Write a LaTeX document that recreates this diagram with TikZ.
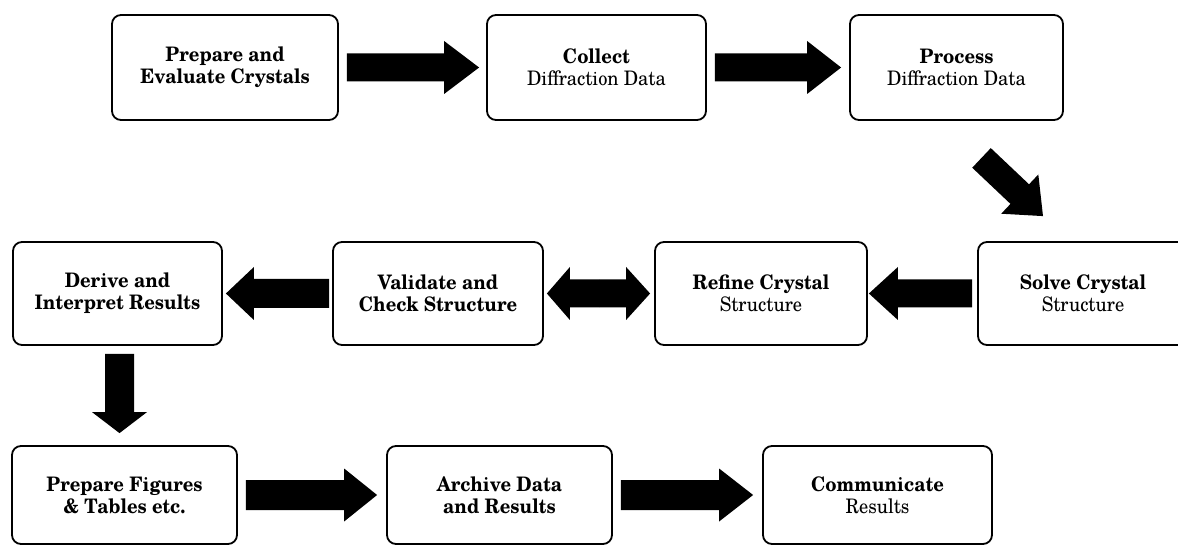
\documentclass[tikz,border=0pt]{standalone}
\usepackage{fontspec}
\setmainfont[FakeStretch=0.92]{TeX Gyre Schola}
\usetikzlibrary{calc}
% #1 tail, #2 tip, #3 half shaft width, #4 half head width, #5 head length
\newcommand\fatarrow[5]{%
  \coordinate (fahead) at ($(#2)!#5!(#1)$);
  \fill[black] ($(#1)!#3!90:(#2)$) -- ($(fahead)!#3!90:(#2)$) -- ($(fahead)!#4!90:(#2)$)
    -- (#2) -- ($(fahead)!#4!-90:(#2)$) -- ($(fahead)!#3!-90:(#2)$) -- ($(#1)!#3!-90:(#2)$) -- cycle;}
\begin{document}
\begin{tikzpicture}[x=1pt,y=-1pt,
  stage/.style={draw, line width=1.8pt, rounded corners=9pt, align=center,
    inner sep=0pt, font=\fontsize{20}{22}\selectfont}]
\useasboundingbox (0,0) rectangle (1178,545);
\clip (0,0) rectangle (1178,545);
\fill[white] (0,0) rectangle (1178,545);
% row 1
\node[stage, minimum width=226pt, minimum height=105pt] (n1) at (225,67.5)
  {\textbf{Prepare and}\\\textbf{Evaluate Crystals}};
\node[stage, minimum width=219pt, minimum height=105pt] (n2) at (596.5,67.5)
  {\textbf{Collect}\\Diffraction Data};
\node[stage, minimum width=213pt, minimum height=105pt] (n3) at (956.5,67.5)
  {\textbf{Process}\\Diffraction Data};
% row 2
\node[stage, minimum width=209pt, minimum height=103pt] (n5) at (117.5,293.5)
  {\textbf{Derive and}\\\textbf{Interpret Results}};
\node[stage, minimum width=210pt, minimum height=103pt] (n6) at (438,293.5)
  {\textbf{Validate and}\\\textbf{Check Structure}};
\node[stage, minimum width=212pt, minimum height=103pt] (n7) at (761,293.5)
  {\textbf{Refine Crystal}\\Structure};
\node[stage, minimum width=210pt, minimum height=103pt] (n8) at (1083,293.5)
  {\textbf{Solve Crystal}\\Structure};
% row 3
\node[stage, minimum width=225pt, minimum height=98pt] (n9) at (124.5,495)
  {\textbf{Prepare Figures}\\\textbf{\& Tables etc.}};
\node[stage, minimum width=225pt, minimum height=98pt] (n10) at (499.5,495)
  {\textbf{Archive Data}\\\textbf{and Results}};
\node[stage, minimum width=229pt, minimum height=98pt] (n11) at (877.5,495)
  {\textbf{Communicate}\\Results};
% connectors
\coordinate (a1t) at ([xshift=8pt]n1.east);
\coordinate (a1h) at ([xshift=-7pt]n2.west);
\fatarrow{a1t}{a1h}{14pt}{26.5pt}{35pt}
\coordinate (a2t) at ([xshift=8pt]n2.east);
\coordinate (a2h) at ([xshift=-8pt]n3.west);
\fatarrow{a2t}{a2h}{14pt}{26.5pt}{34pt}
\coordinate (a3t) at ([shift={(25,37)}]n3.south);
\coordinate (a3h) at ([shift={(-40,-25)}]n8.north);
\fatarrow{a3t}{a3h}{13.5pt}{27pt}{32pt}
\coordinate (a4t) at ([xshift=-5pt]n8.west);
\coordinate (a4h) at ([xshift=1pt]n7.east);
\fatarrow{a4t}{a4h}{14pt}{26.5pt}{29pt}
\coordinate (a5m) at ($(n6.east)!0.5!(n7.west)$);
\coordinate (a5l) at ([xshift=3pt]n6.east);
\coordinate (a5r) at ([xshift=-4pt]n7.west);
\fatarrow{a5m}{a5l}{14pt}{26.5pt}{23pt}
\fatarrow{a5m}{a5r}{14pt}{26.5pt}{24pt}
\coordinate (a6t) at ([xshift=-3pt]n6.west);
\coordinate (a6h) at ([xshift=3pt]n5.east);
\fatarrow{a6t}{a6h}{14.5pt}{26.5pt}{28pt}
\coordinate (a7t) at ([shift={(2,8)}]n5.south);
\coordinate (a7h) at ($(a7t |- n9.north)+(0,-12)$);
\fatarrow{a7t}{a7h}{14.5pt}{27.5pt}{21pt}
\coordinate (a8t) at ([xshift=8pt]n9.east);
\coordinate (a8h) at ([xshift=-9pt]n10.west);
\fatarrow{a8t}{a8h}{15pt}{26.5pt}{33pt}
\coordinate (a9t) at ([xshift=8pt]n10.east);
\coordinate (a9h) at ([xshift=-9pt]n11.west);
\fatarrow{a9t}{a9h}{15pt}{26.5pt}{34pt}
\end{tikzpicture}
\end{document}
